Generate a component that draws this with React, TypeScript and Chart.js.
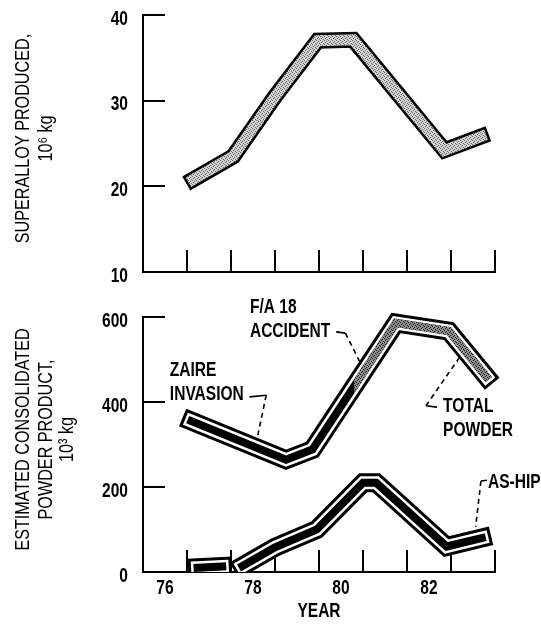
import React, { useEffect, useRef } from "react";
import { Chart, registerables } from "chart.js";

Chart.register(...registerables);

// ---- data (years as plotted) ----
const superalloyYears = [76.64, 77.55, 78.5, 79.47, 80.28, 82.35, 83.18];
const superalloyValues = [20.8, 23.5, 30.5, 37.0, 37.1, 24.2, 25.8];

const totalPowderYears = [76.6, 78.75, 79.35, 81.25, 82.45, 83.3];
const totalPowderValues = [355, 264, 288, 586, 567, 460];

const asHipYears = [76.74, 77.3, 77.5, 77.76, 78.5, 79.45, 80.5, 80.8, 82.4, 83.2];
const asHipValues = [10, 13, null, 14, 58, 100, 210, 210, 60, 80];

const accidentShadeFrom = 80.3;

const yearLabels = [76, 78, 80, 82];
const yearMarks = [76.5, 77.5, 78.5, 79.5, 80.5, 81.5, 82.5, 83.5];
const superalloyTicks = [10, 20, 30, 40];
const powderTicks = [0, 200, 400, 600];

const topTitle = ["SUPERALLOY PRODUCED,", "10\u2076 kg"];
const bottomTitle = ["ESTIMATED CONSOLIDATED", "POWDER PRODUCT,", "10\u00b3 kg"];
const xTitle = "YEAR";

const notes = [
  { text: ["F/A 18", "ACCIDENT"], at: [77.93, 622], solid: [[79.89, 565], [80.1, 562]], dashed: [[80.1, 562], [80.43, 494]] },
  { text: ["ZAIRE", "INVASION"], at: [76.11, 474], solid: [[77.92, 412], [78.3, 416]], dashed: [[78.3, 416], [78.11, 322]] },
  { text: ["TOTAL", "POWDER"], at: [82.32, 389], solid: [[81.93, 391], [82.18, 388]], dashed: [[81.93, 391], [82.7, 506]] },
  { text: ["AS-HIP"], at: [83.34, 212], solid: [[83.32, 216], [83.18, 214]], dashed: [[83.18, 214], [83.06, 106]] },
];

const FAMILY = "'Liberation Sans', Arial, 'DejaVu Sans', sans-serif";
const SX_BOLD = 0.74; // narrow typeface look
const SX_REG = 0.77;
const BOLD = `bold 21px ${FAMILY}`;
const REG = `21px ${FAMILY}`;

function pts(xs: number[], ys: (number | null)[]) {
  return xs.map((x, i) => ({ x, y: ys[i] }));
}

function stipple(base: string, dots: string): CanvasPattern | string {
  const c = document.createElement("canvas");
  c.width = 4;
  c.height = 4;
  const g = c.getContext("2d");
  if (!g) return base;
  g.fillStyle = base;
  g.fillRect(0, 0, 4, 4);
  g.fillStyle = dots;
  g.fillRect(0, 0, 1, 1);
  g.fillRect(2, 1, 1, 1);
  g.fillRect(1, 2, 1, 1);
  g.fillRect(3, 3, 1, 1);
  return g.createPattern(c, "repeat") || base;
}

function narrowText(ctx: CanvasRenderingContext2D, text: string, x: number, y: number, align: CanvasTextAlign, sx: number, rotate = false) {
  ctx.save();
  ctx.translate(x, y);
  if (rotate) ctx.rotate(-Math.PI / 2);
  ctx.scale(sx, 1);
  ctx.textAlign = align;
  ctx.textBaseline = "middle";
  ctx.fillText(text, 0, 0);
  ctx.restore();
}

const lineBase = {
  pointRadius: 0,
  tension: 0,
  fill: false,
  spanGaps: false,
  borderCapStyle: "square" as const,
  borderJoinStyle: "miter" as const,
};

const innerTicksPlugin = {
  id: "innerTicks",
  beforeDatasetsDraw(chart: any) {
    const { ctx, chartArea, scales } = chart;
    const len = 22;
    ctx.save();
    ctx.strokeStyle = "#000";
    ctx.lineWidth = 2;
    ctx.beginPath();
    for (const v of yearMarks) {
      const px = Math.round(scales.x.getPixelForValue(v));
      ctx.moveTo(px, chartArea.bottom);
      ctx.lineTo(px, chartArea.bottom - len);
    }
    for (const t of scales.y.ticks) {
      if (t.value === scales.y.min) continue;
      const py = Math.round(scales.y.getPixelForValue(t.value));
      ctx.moveTo(chartArea.left, py);
      ctx.lineTo(chartArea.left + len, py);
    }
    ctx.stroke();
    ctx.restore();
  },
};

function axisTextPlugin(yTitle: string[], showX: boolean) {
  return {
    id: "axisText",
    afterDraw(chart: any) {
      const { ctx, chartArea, scales } = chart;
      ctx.save();
      ctx.fillStyle = "#000";
      ctx.font = BOLD;
      for (const t of scales.y.ticks) {
        const py = scales.y.getPixelForValue(t.value);
        narrowText(ctx, String(t.value), chartArea.left - 15, py + 4, "right", SX_BOLD);
      }
      if (showX) {
        for (const v of yearLabels) {
          narrowText(ctx, String(v), scales.x.getPixelForValue(v), chartArea.bottom + 16, "center", SX_BOLD);
        }
        narrowText(ctx, xTitle, (chartArea.left + chartArea.right) / 2, chartArea.bottom + 39, "center", SX_BOLD);
      }
      ctx.font = REG;
      const cy = (chartArea.top + chartArea.bottom) / 2 - 5;
      const offs = [-120, -97, -76];
      yTitle.forEach((line, i) => narrowText(ctx, line, chartArea.left + offs[i], cy, "center", SX_REG, true));
      ctx.restore();
    },
  };
}

const shadeClipPlugin = {
  id: "shadeClip",
  beforeDatasetDraw(chart: any, args: any) {
    const ds: any = chart.data.datasets[args.index];
    if (ds.shadeFrom == null) return;
    const px = chart.scales.x.getPixelForValue(ds.shadeFrom);
    chart.ctx.save();
    chart.ctx.beginPath();
    chart.ctx.rect(px, 0, chart.width, chart.height);
    chart.ctx.clip();
  },
  afterDatasetDraw(chart: any, args: any) {
    const ds: any = chart.data.datasets[args.index];
    if (ds.shadeFrom == null) return;
    chart.ctx.restore();
  },
};

const notesPlugin = {
  id: "notes",
  afterDatasetsDraw(chart: any) {
    const { ctx, scales } = chart;
    const X = (v: number) => scales.x.getPixelForValue(v);
    const Y = (v: number) => scales.y.getPixelForValue(v);
    ctx.save();
    ctx.fillStyle = "#000";
    ctx.strokeStyle = "#000";
    ctx.font = BOLD;
    for (const n of notes) {
      n.text.forEach((t, i) => narrowText(ctx, t, X(n.at[0]), Y(n.at[1]) + i * 24, "left", SX_BOLD));
      ctx.lineWidth = 1.6;
      ctx.setLineDash([]);
      ctx.beginPath();
      ctx.moveTo(X(n.solid[0][0]), Y(n.solid[0][1]));
      ctx.lineTo(X(n.solid[1][0]), Y(n.solid[1][1]));
      ctx.stroke();
      ctx.setLineDash([5, 4]);
      ctx.beginPath();
      ctx.moveTo(X(n.dashed[0][0]), Y(n.dashed[0][1]));
      ctx.lineTo(X(n.dashed[1][0]), Y(n.dashed[1][1]));
      ctx.stroke();
    }
    ctx.restore();
  },
};

function xScale(fixedHeight: number) {
  return {
    type: "linear" as const,
    min: 75.5,
    max: 83.5,
    grid: { display: false, drawTicks: false },
    border: { display: true, color: "#000", width: 2 },
    afterBuildTicks: (s: any) => {
      s.ticks = yearLabels.map((v) => ({ value: v }));
    },
    afterFit: (s: any) => {
      s.height = fixedHeight;
    },
    ticks: { display: false },
    title: { display: false },
  };
}

function yScale(min: number, max: number, tickVals: number[]) {
  return {
    type: "linear" as const,
    min,
    max,
    grid: { display: false, drawTicks: false },
    border: { display: true, color: "#000", width: 2 },
    afterBuildTicks: (s: any) => {
      s.ticks = tickVals.map((v) => ({ value: v }));
    },
    afterFit: (s: any) => {
      s.width = 143;
    },
    ticks: { display: false },
    title: { display: false },
  };
}

export default function App() {
  const topRef = useRef<HTMLCanvasElement>(null);
  const botRef = useRef<HTMLCanvasElement>(null);

  useEffect(() => {
    if (!topRef.current || !botRef.current) return;
    const lightStipple = stipple("#d0d0d0", "#6a6a6a");
    const darkStipple = stipple("#8c8c8c", "#202020");

    const superalloy = pts(superalloyYears, superalloyValues);
    const total = pts(totalPowderYears, totalPowderValues);
    const asHip = pts(asHipYears, asHipValues);

    const top = new Chart(topRef.current, {
      type: "line",
      data: {
        datasets: [
          { ...lineBase, data: superalloy, borderColor: "#000", borderWidth: 16, order: 2, clip: false } as any,
          { ...lineBase, data: superalloy, borderColor: lightStipple, borderWidth: 11, order: 1, clip: false } as any,
        ],
      },
      options: {
        responsive: false,
        animation: false,
        events: [],
        layout: { padding: { top: 15, right: 46, left: 0, bottom: 0 } },
        plugins: { legend: { display: false }, tooltip: { enabled: false } },
        scales: {
          x: xScale(18),
          y: yScale(10, 40, superalloyTicks),
        },
      } as any,
      plugins: [innerTicksPlugin, axisTextPlugin(topTitle, false)],
    });

    const bot = new Chart(botRef.current, {
      type: "line",
      data: {
        datasets: [
          { ...lineBase, data: total, borderColor: "#000", borderWidth: 19, order: 7, clip: false } as any,
          { ...lineBase, data: total, borderColor: "#fff", borderWidth: 13, order: 6, clip: false } as any,
          { ...lineBase, data: total, borderColor: "#000", borderWidth: 8, order: 5, clip: false } as any,
          { ...lineBase, data: total, borderColor: darkStipple, borderWidth: 8, order: 4, clip: false, shadeFrom: accidentShadeFrom } as any,
          { ...lineBase, data: asHip, borderColor: "#000", borderWidth: 19, order: 3, clip: 0 } as any,
          { ...lineBase, data: asHip, borderColor: "#fff", borderWidth: 13, order: 2, clip: 0 } as any,
          { ...lineBase, data: asHip, borderColor: "#000", borderWidth: 8, order: 1, clip: 0 } as any,
        ],
      },
      options: {
        responsive: false,
        animation: false,
        events: [],
        layout: { padding: { top: 27, right: 46, left: 0, bottom: 0 } },
        plugins: { legend: { display: false }, tooltip: { enabled: false } },
        scales: {
          x: xScale(53),
          y: yScale(0, 600, powderTicks),
        },
      } as any,
      plugins: [innerTicksPlugin, shadeClipPlugin, notesPlugin, axisTextPlugin(bottomTitle, true)],
    });

    return () => {
      top.destroy();
      bot.destroy();
    };
  }, []);

  return (
    <div style={{ position: "absolute", left: 0, top: 0, width: 541, height: 625, background: "#fff" }}>
      <canvas ref={topRef} width={541} height={290} style={{ position: "absolute", left: 0, top: 0 }} />
      <canvas ref={botRef} width={541} height={335} style={{ position: "absolute", left: 0, top: 290 }} />
    </div>
  );
}
